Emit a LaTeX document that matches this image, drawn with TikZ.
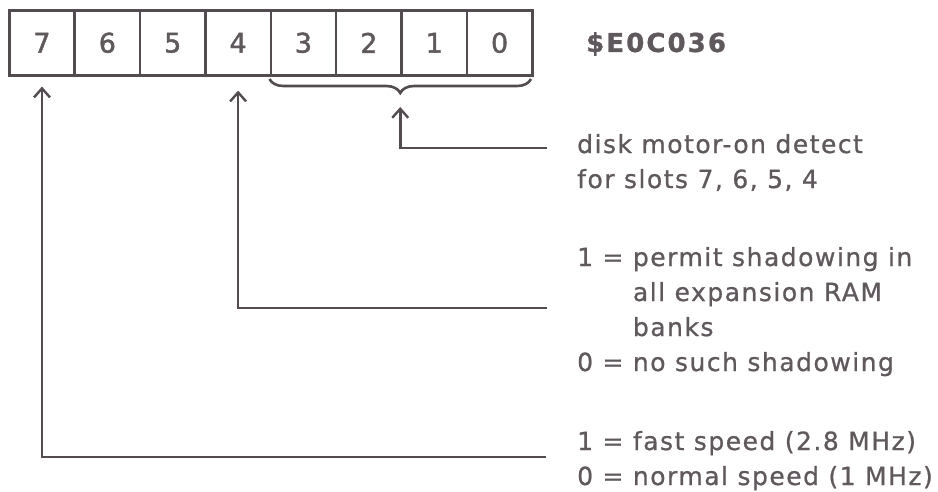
\documentclass[tikz,border=0pt]{standalone}
\usepackage{fontspec}
\newfontfamily\bodyf[LetterSpace=6,FakeBold=0.8]{DejaVu Sans}
\newfontfamily\digf[FakeBold=1.6]{DejaVu Sans}
\newfontfamily\codef[LetterSpace=8,FakeBold=1]{DejaVu Sans}
\usetikzlibrary{arrows.meta,decorations.pathreplacing}
\definecolor{ink}{RGB}{95,88,92}
\definecolor{lineink}{RGB}{82,75,79}
\begin{document}
\begin{tikzpicture}[x=1pt,y=-1pt,
  cell/.style={draw=lineink,line width=2.6pt,minimum width=65.375pt,minimum height=65pt,inner sep=0pt,
    font=\digf\fontsize{27}{30}\selectfont,text=ink,anchor=north west},
  conn/.style={draw=lineink,line width=2.6pt,-{Straight Barb[length=9pt,width=16pt,line width=2.4pt]}},
  desc/.style={anchor=base west,inner sep=0pt,text=ink,font=\bodyf\fontsize{25}{35}\selectfont}]
\useasboundingbox (0,0) rectangle (938,491);
\foreach \b [count=\i from 0] in {7,6,5,4,3,2,1,0}
  \node[cell] (b\b) at ({8+65.375*\i},9) {\b};
\node[anchor=west,text=ink,inner sep=0pt,font=\codef\bfseries\fontsize{26}{30}\selectfont] (addr) at (586,44) {\$E0C036};
\draw[lineink,line width=2.6pt,decorate,decoration={brace,amplitude=14pt,mirror}] (269.5,79) -- (531,79);
\coordinate (bt) at (400.25,93);
\node[desc] (d30) at (577,153) {\begin{tabular}[t]{@{}l@{}}disk motor-on detect\\for slots 7, 6, 5, 4\end{tabular}};
\node[desc] (d4) at (577,266) {\begin{tabular}[t]{@{}l@{\ }l@{}}1 =& permit shadowing in\\ & all expansion RAM\\ & banks\\0 =& no such shadowing\end{tabular}};
\node[desc] (d7) at (577,450) {\begin{tabular}[t]{@{}l@{}}1 = fast speed (2.8 MHz)\\0 = normal speed (1 MHz)\end{tabular}};
\coordinate (e30) at (547,148);
\coordinate (e4) at (547,308);
\coordinate (e7) at (546,457);
\draw[conn] (e30) -| ([yshift=-14pt]bt);
\draw[conn] (e4) -| ([yshift=-14pt]b4.south);
\draw[conn] (e7) -| ([yshift=-10pt]b7.south);
\end{tikzpicture}
\end{document}
